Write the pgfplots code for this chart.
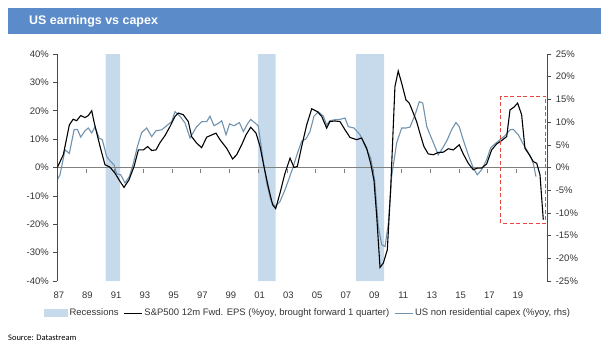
\documentclass[border=0pt]{standalone}
\usepackage{pgfplots}
\pgfplotsset{compat=1.18}
\usepackage{pgfplotstable}
\usepackage{fontspec}
\setmainfont{Liberation Sans}
\newfontfamily\srcfont{Carlito}
\definecolor{titlebar}{HTML}{5B8BC8}
\definecolor{recc}{HTML}{C6DAEC}
\definecolor{capex}{HTML}{6F93AE}
\definecolor{axisgray}{HTML}{4A4A4A}
\definecolor{boxred}{HTML}{E5483E}
\definecolor{ticktext}{HTML}{333333}

\pgfplotstableread{
x y
1987.00 0
1987.42 4.5
1987.84 15
1988.10 17
1988.35 16.5
1988.63 18.3
1988.93 17.6
1989.16 18.3
1989.40 20
1989.58 15.6
1989.98 7.4
1990.32 1
1990.67 0.1
1991.02 -2
1991.37 -4.9
1991.65 -7
1992.00 -4.3
1992.35 0.4
1992.65 6.2
1993.00 6.2
1993.30 7.4
1993.58 6.0
1993.88 6.2
1994.16 8.8
1994.50 11.2
1994.85 14.4
1995.20 18
1995.43 19.2
1995.78 18.6
1996.13 16.2
1996.36 10.9
1996.71 8.6
1997.06 7
1997.41 10.7
1997.64 11.2
1998.06 12.1
1998.34 9.8
1998.80 6.8
1999.22 3
1999.50 4.5
1999.85 8
2000.15 11.5
2000.48 14.2
2000.85 12.1
2001.13 7.4
2001.40 0.4
2001.70 -6.7
2002.00 -13.1
2002.22 -14.5
2002.52 -9
2002.87 -2
2003.22 3.3
2003.50 0
2003.73 0.4
2004.03 7.4
2004.38 15
2004.73 20.7
2005.12 19.7
2005.43 18
2005.77 13.9
2006.00 16.2
2006.35 16.4
2006.70 16.2
2007.05 13.3
2007.40 10.6
2007.86 9.8
2008.21 10.4
2008.56 6.8
2008.85 1.2
2009.07 -4.6
2009.26 -17.2
2009.49 -35.2
2009.72 -33.7
2010.00 -29
2010.23 -7.9
2010.53 28.5
2010.76 34
2011.00 29.7
2011.30 23.8
2011.53 22.7
2011.81 19.2
2012.04 16.2
2012.27 12.1
2012.55 7.4
2012.85 4.8
2013.20 4.5
2013.55 5.3
2013.90 5.4
2014.25 6.6
2014.60 6.2
2015.01 8
2015.29 4.8
2015.64 1.5
2015.99 -0.8
2016.27 -0.2
2016.57 -0.2
2016.92 1.2
2017.27 6.2
2017.62 8.3
2017.97 9.5
2018.32 10.9
2018.55 20.3
2018.83 21.3
2019.08 22.7
2019.36 18.6
2019.59 6.8
2019.89 4.5
2020.17 2.1
2020.41 1.5
2020.64 -2.6
2020.87 -18.4
}\epsdata

\pgfplotstableread{
x y
1987.00 -2.7
1987.19 -1.6
1987.54 3.9
1987.84 3.1
1988.17 8.3
1988.40 8.4
1988.63 6.7
1988.93 8.1
1989.16 8.7
1989.40 7.6
1989.63 9.0
1989.91 6.5
1990.14 6.1
1990.44 2.4
1990.72 1.3
1990.95 0.6
1991.14 -1.4
1991.42 -1.6
1991.72 -3.4
1992.02 -2.0
1992.30 0.9
1992.58 4.6
1992.88 7.7
1993.23 8.7
1993.58 6.8
1993.88 8.1
1994.28 8.3
1994.62 9.2
1994.97 10.1
1995.20 12.3
1995.55 11.3
1995.90 9.8
1996.25 6.5
1996.71 9.0
1997.06 10.1
1997.41 10.1
1997.64 11.3
1997.92 9.2
1998.22 9.7
1998.46 10.3
1998.76 7.2
1999.00 9.6
1999.32 9.2
1999.69 9.9
1999.97 7.9
2000.25 9.6
2000.48 10.6
2000.78 9.8
2001.00 9.2
2001.31 2.4
2001.59 -3.4
2001.87 -7.1
2002.17 -8.6
2002.52 -7.5
2002.87 -4.9
2003.17 -2.3
2003.45 0.3
2003.73 3.1
2004.03 5.8
2004.33 6.3
2004.61 7.9
2004.89 11.3
2005.19 12.3
2005.54 11.3
2005.77 9.4
2006.00 10.3
2006.28 10.5
2006.70 10.6
2007.05 10.9
2007.28 9.0
2007.68 8.7
2008.10 7.2
2008.51 4.3
2008.84 2.1
2009.12 -2.8
2009.37 -13.0
2009.61 -17.0
2009.84 -17.4
2010.07 -12.3
2010.30 -2.0
2010.65 5.4
2011.00 8.7
2011.30 8.7
2011.58 8.9
2011.93 11.6
2012.23 14.5
2012.47 14.2
2012.75 9.0
2013.03 6.8
2013.32 4.6
2013.55 2.8
2013.86 4.3
2014.18 6.1
2014.48 8.3
2014.78 9.9
2015.01 9.0
2015.29 6.1
2015.64 2.8
2015.99 -0.1
2016.27 -1.6
2016.57 -0.5
2016.92 1.7
2017.20 4.3
2017.50 5.2
2017.85 6.1
2018.20 7.0
2018.55 8.3
2018.78 8.4
2019.13 7.2
2019.43 5.4
2019.71 3.9
2019.99 2.4
2020.17 0.9
2020.36 -2.0
}\capexdata

\pgfplotsset{
  mybase/.style={
    scale only axis, width=490bp, height=227bp,
    at={(57.3bp,69bp)}, anchor=south west,
    xmin=1987, xmax=2021.15,
    tick label style={font=\fontsize{9.5}{11}\selectfont, text=ticktext},
    tick align=outside, major tick length=4bp,
    y axis line style={axisgray, line width=0.6pt},
    y tick style={axisgray, line width=0.6pt},
  }
}

\begin{document}
\begin{tikzpicture}[x=1bp,y=1bp]
\path (0,0) rectangle (601,350);
\fill[titlebar] (8,316) rectangle (601,342);
\node[anchor=west, text=white, inner sep=0pt, font=\fontsize{12.5}{14}\selectfont\bfseries] at (29,329) {US earnings vs capex};
\node[anchor=west, inner sep=0pt, font=\srcfont\fontsize{8.5}{10}\selectfont] at (8,12) {Source: Datastream};

% right-hand axis: recessions and capex
\begin{axis}[mybase,
  ymin=-25, ymax=25,
  axis y line*=right, axis x line*=bottom,
  x axis line style={draw=none}, x tick style={draw=none},
  xtick={1987,1989,...,2019},
  xticklabels={87,89,91,93,95,97,99,01,03,05,07,09,11,13,15,17,19},
  xticklabel style={yshift=-3bp, xshift=1.5bp},
  ytick={-25,-20,...,25},
  yticklabels={-25\%,-20\%,-15\%,-10\%,-5\%,0\%,5\%,10\%,15\%,20\%,25\%},
  yticklabel style={xshift=1bp},
]
\addplot[fill=recc, draw=none, forget plot] coordinates {(1990.37,-25)(1990.37,25)(1991.37,25)(1991.37,-25)(1990.37,-25)};
\addplot[fill=recc, draw=none, forget plot] coordinates {(2001.0,-25)(2001.0,25)(2002.22,25)(2002.22,-25)(2001.0,-25)};
\addplot[fill=recc, draw=none, forget plot] coordinates {(2007.8,-25)(2007.8,25)(2009.77,25)(2009.77,-25)(2007.8,-25)};
\addplot[capex, line width=1.1pt, forget plot] table[x=x,y=y] {\capexdata};
\end{axis}

% left-hand axis: EPS
\begin{axis}[mybase,
  ymin=-40, ymax=40,
  axis y line*=left, axis x line*=middle,
  x axis line style={gray, line width=0.7pt},
  x tick style={gray, line width=0.6pt, yshift=-1.5bp},
  xtick={1989,1991,...,2019}, xticklabels={},
  ytick={-40,-30,...,40},
  yticklabels={-40\%,-30\%,-20\%,-10\%,0\%,10\%,20\%,30\%,40\%},
  yticklabel style={xshift=-1bp},
  legend columns=3,
  legend style={draw=none, fill=none, at={(0.512,-0.141)}, anchor=center,
    font=\fontsize{9.5}{11}\selectfont, text=ticktext,
    /tikz/every even column/.append style={column sep=3bp}},
]
\addlegendimage{legend image code/.code={\fill[recc] (0bp,-3.5bp) rectangle (23bp,3.5bp);}}
\addlegendentry{Recessions}
\addplot[black, line width=1.1pt, legend image code/.code={\draw[black, line width=0.9pt] (0bp,0bp) -- (18bp,0bp);}] table[x=x,y=y] {\epsdata};
\addlegendentry{S\&P500 12m Fwd. EPS (\%yoy, brought forward 1 quarter)}
\addlegendimage{legend image code/.code={\draw[capex, line width=0.9pt] (0bp,0bp) -- (18bp,0bp);}}
\addlegendentry{US non residential capex (\%yoy, rhs)}
\addplot[boxred, line width=1pt, dash pattern=on 4bp off 2.5bp, forget plot] coordinates {(2017.92,-19.6)(2017.92,25.2)(2021.05,25.2)(2021.05,-19.6)(2017.92,-19.6)};
\end{axis}
\end{tikzpicture}
\end{document}
